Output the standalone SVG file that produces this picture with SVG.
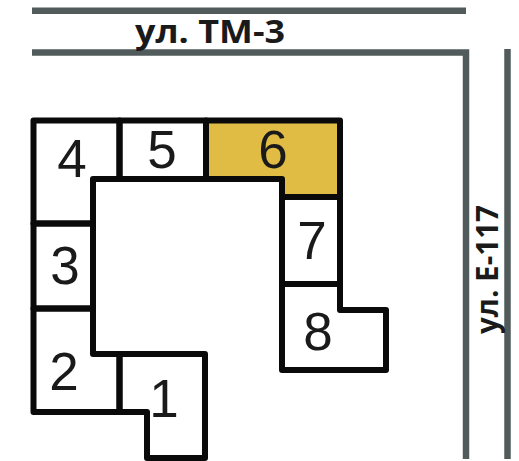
<svg xmlns="http://www.w3.org/2000/svg" width="519" height="461" viewBox="0 0 519 461">
<style>
.road{fill:none;stroke:#515b5b;stroke-width:6.5}
.plot{fill:none;stroke:#0a0a0a;stroke-width:6;stroke-linejoin:round;stroke-linecap:round}
.num{font-family:"Liberation Sans",Arial,sans-serif;font-size:53px;fill:#1a1a1a;text-anchor:middle}
.lab{font-family:"Open Sans","Liberation Sans",sans-serif;font-weight:700;fill:#1a1a1a}
</style>
<rect width="519" height="461" fill="#fff"/>
<g id="roads">
<path class="road" d="M32 10.7H466"/>
<path class="road" d="M32 52.5H466V459"/>
<path class="road" d="M507.5 49V459"/>
</g>
<g id="connectors"></g>
<g id="plot-6"><path d="M206 120.5H340V197H282V179H206Z" fill="#e0bc44"/><path class="plot" d="M206 120.5H340V197H282V179H206Z"/><text class="num" x="273" y="168">6</text></g>
<g id="plot-4"><path class="plot" d="M33.5 120.5H119.5V179H93V223.5H33.5Z"/><text class="num" x="72" y="177">4</text></g>
<g id="plot-5"><path class="plot" d="M119.5 120.5H206V179H119.5Z"/><text class="num" x="162" y="168">5</text></g>
<g id="plot-3"><path class="plot" d="M33.5 223.5H93V308.5H33.5Z"/><text class="num" x="65" y="284">3</text></g>
<g id="plot-2"><path class="plot" d="M33.5 308.5H93V354H119.5V412H33.5Z"/><text class="num" x="64" y="390">2</text></g>
<g id="plot-1"><path class="plot" d="M119.5 354H205V458H147V412H119.5Z"/><text class="num" x="164" y="417">1</text></g>
<g id="plot-7"><path class="plot" d="M282 197H340V284H282Z"/><text class="num" x="312" y="259">7</text></g>
<g id="plot-8"><path class="plot" d="M282 284H340V310H386V370H282Z"/><text class="num" x="318" y="350">8</text></g>
<g id="labels">
<text class="lab" x="135" y="43" font-size="32" textLength="150" lengthAdjust="spacingAndGlyphs">ул. ТМ-3</text>
<text class="lab" font-size="30" textLength="129" lengthAdjust="spacingAndGlyphs" transform="translate(498 334) rotate(-90)">ул. Е-117</text>
</g>
</svg>
